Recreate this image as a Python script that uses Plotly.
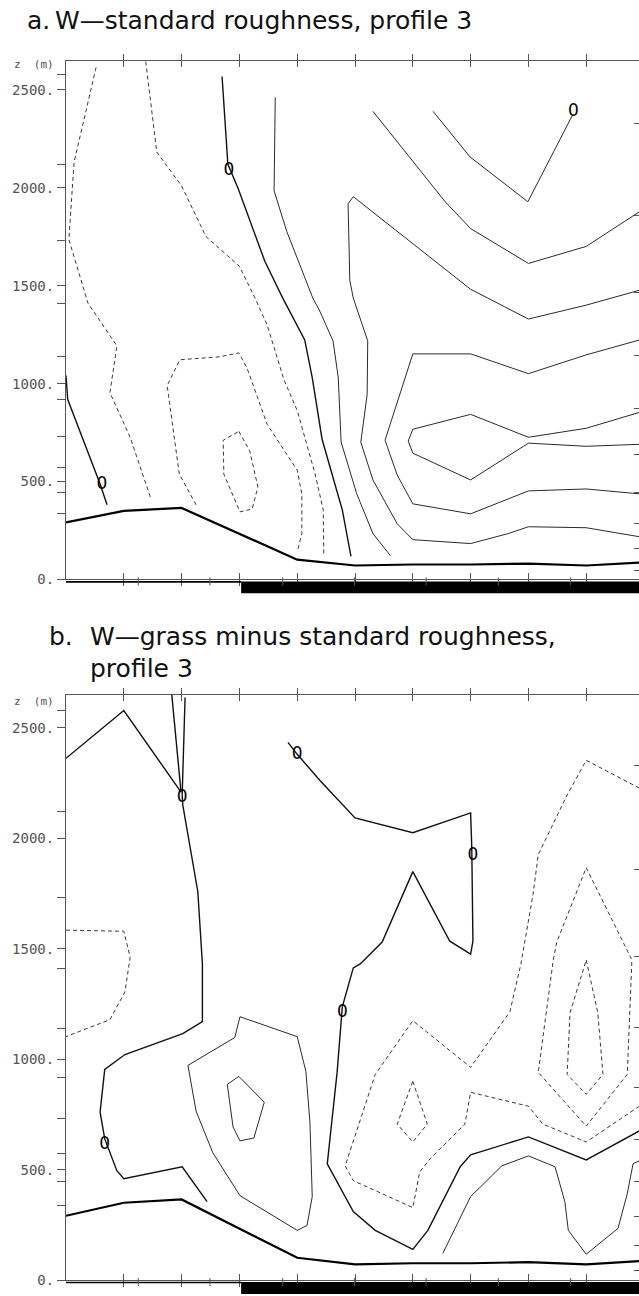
import plotly.graph_objects as go

# ---------------- axes / ticks ----------------
x_ticks = [1, 2, 3, 4, 5, 6, 7, 8, 9]
terrain_ticks = [1.25, 2.49, 3.75, 4.99, 6.23, 7.48, 8.73]
urban_start = 3.03
z_major = [0, 500, 1000, 1500, 2000, 2500]
z_major_text = ["0.", "500.", "1000.", "1500.", "2000.", "2500."]
levels_left = [2580, 2120, 1732, 1411, 1141, 917, 731, 574, 446, 337]
levels_right = [2330, 1860, 1466, 1142, 872, 638, 445, 288, 157, 45]

# heavy reference line near the ground (same in both panels)
terrain_x = [0, 1, 2, 4, 5, 6, 7, 8, 9, 9.92]
terrain_z = [291, 350, 365, 101, 71, 76, 76, 81, 71, 86]

# ---------------- panel a : W, standard roughness ----------------
a_neg1_x = [0.52, 0.14, 0.05, 0.38, 0.88, 0.76, 1.11, 1.47]
a_neg1_z = [2615, 2132, 1736, 1411, 1193, 954, 726, 411]
a_neg2_x = [1.38, 1.57, 2.0, 2.42, 3.0, 3.27, 3.48, 3.77, 4.0, 4.31, 4.45, 4.46]
a_neg2_z = [2645, 2183, 2010, 1752, 1599, 1437, 1300, 1020, 863, 538, 355, 132]
a_neg3_x = [2.25, 1.96, 1.75, 1.97, 2.66, 2.99, 3.13, 3.48, 4.0, 4.08, 4.08, 4.01]
a_neg3_z = [381, 538, 990, 1122, 1137, 1157, 1081, 792, 558, 437, 234, 152]
a_neg4_x = [2.99, 3.18, 3.32, 3.22, 3.01, 2.73, 2.72, 2.99]
a_neg4_z = [756, 655, 472, 360, 345, 538, 711, 756]

a_zero1_x = [2.70, 2.80, 2.98, 3.44, 3.75, 4.13, 4.26, 4.43, 4.78, 4.93]
a_zero1_z = [2569, 2122, 1995, 1625, 1437, 1223, 1031, 716, 355, 117]
a_zero2_x = [0.0, 0.03, 0.59, 0.71]
a_zero2_z = [1041, 919, 487, 381]
a_zero3_x = [6.35, 6.99, 7.99, 8.76]
a_zero3_z = [2391, 2158, 1929, 2370]

a_pos1_x = [3.62, 3.60, 3.82, 4.27, 4.39, 4.62, 4.71, 4.76, 5.03, 5.31, 5.61]
a_pos1_z = [2462, 1985, 1777, 1437, 1371, 1218, 1031, 701, 437, 234, 122]
a_pos2_x = [9.92, 9.0, 8.0, 7.0, 4.97, 4.88, 4.91, 4.97, 5.22, 5.21, 5.10, 5.31,
            5.73, 6.0, 7.0, 7.65, 8.0, 9.0, 9.92]
a_pos2_z = [1477, 1401, 1330, 1482, 1955, 1919, 1528, 1437, 1218, 944, 701, 508,
            284, 203, 183, 234, 269, 264, 218]
a_pos3_x = [5.31, 6.56, 7.0, 8.0, 9.0, 9.92]
a_pos3_z = [2391, 1929, 1792, 1614, 1701, 1878]
a_pos4_x = [9.92, 9.0, 8.0, 7.0, 6.0, 5.52, 5.73, 6.0, 7.0, 8.0, 9.0, 9.92]
a_pos4_z = [1223, 1147, 1051, 1152, 1152, 711, 533, 386, 335, 452, 462, 437]
a_pos5_x = [9.92, 9.0, 8.0, 7.0, 6.0, 5.92, 6.0, 7.0, 8.0, 9.0, 9.92]
a_pos5_z = [853, 772, 726, 843, 767, 706, 645, 508, 696, 680, 690]

a_label_x = [2.82, 0.62, 8.78]
a_label_z = [2087, 482, 2391]

# ---------------- panel b : W, grass minus standard ----------------
b_zero1_x = [0.0, 1.0, 1.99, 1.83]
b_zero1_z = [2362, 2578, 2209, 2650]
b_zero2_x = [2.06, 2.01, 2.02, 2.28, 2.36, 2.36, 2.02, 1.02, 0.67, 0.59, 0.67, 0.88,
             1.0, 2.01, 2.44]
b_zero2_z = [2637, 2196, 2151, 1759, 1431, 1170, 1116, 1021, 954, 760, 639, 495,
             459, 513, 355]
b_zero3_x = [3.84, 4.0, 4.39, 5.0, 6.0, 7.0, 7.02, 7.04, 7.0, 6.64, 6.0, 5.47, 5.09,
             4.97, 4.78, 4.76, 4.69, 4.52, 4.97, 5.35, 6.0, 6.26, 6.82, 7.0, 8.0,
             9.0, 9.92]
b_zero3_z = [2434, 2380, 2263, 2092, 2025, 2115, 1957, 1534, 1476, 1534, 1849, 1530,
             1431, 1413, 1237, 1170, 940, 526, 310, 225, 139, 225, 513, 567, 648,
             544, 675]

b_neg1_x = [0.0, 1.0, 1.11, 1.02, 0.76, 0.0]
b_neg1_z = [1584, 1579, 1462, 1305, 1179, 1102]
b_neg2_x = [9.92, 9.0, 8.67, 8.17, 8.08, 7.87, 7.68, 7.0, 6.0, 5.35, 4.83, 4.97, 6.0,
            6.12, 6.30, 6.90, 7.0, 8.0, 8.25, 9.0, 9.92]
b_neg2_z = [2227, 2353, 2196, 1926, 1746, 1431, 1215, 963, 1174, 931, 517, 450, 328,
            490, 549, 706, 850, 787, 706, 625, 787]
b_neg3_x = [9.0, 9.64, 9.79, 9.71, 9.0, 8.17, 8.43, 8.49, 9.0]
b_neg3_z = [1867, 1534, 1449, 931, 697, 940, 1449, 1530, 1867]
b_neg4_x = [9.0, 9.20, 9.29, 9.0, 8.67, 8.72, 9.0]
b_neg4_z = [1449, 1210, 931, 841, 931, 1210, 1449]
b_neg5_x = [6.0, 6.25, 6.0, 5.73, 6.0]
b_neg5_z = [900, 706, 625, 706, 900]

b_pos1_x = [3.01, 2.92, 2.11, 2.25, 2.54, 3.01, 4.0, 4.17, 4.26, 4.22, 4.15, 4.0, 3.01]
b_pos1_z = [1192, 1098, 972, 765, 576, 382, 225, 247, 378, 715, 945, 1102, 1192]
b_pos2_x = [2.99, 3.43, 3.25, 3.01, 2.89, 2.79, 2.99]
b_pos2_z = [922, 805, 643, 630, 693, 886, 922]
b_pos3_x = [6.52, 7.0, 7.54, 8.0, 8.46, 8.63, 8.69, 9.0, 9.55, 9.71, 9.81, 9.92]
b_pos3_z = [121, 378, 517, 562, 513, 355, 225, 117, 234, 391, 526, 540]

b_label_x = [2.01, 0.67, 4.0, 7.04, 4.78]
b_label_z = [2182, 612, 2380, 1921, 1210]

# ---------------- figure ----------------
W, H = 639, 1296
LEFT = 66
XMAX = 9.913
ZMAX = 2650
dom_a = [1 - 583 / H, 1 - 61 / H]
dom_b = [1 - 1288 / H, 1 - 699 / H]

solid = dict(color="#2a2a2a", width=1)
dashed = dict(color="#3a3a3a", width=1, dash="4px,3px")
zero = dict(color="#111111", width=1.4)
thick = dict(color="#000000", width=2.2)

fig = go.Figure()


def add(xs, zs, style, panel):
    xa, ya = ("x", "y") if panel == "a" else ("x2", "y2")
    fig.add_trace(go.Scatter(x=xs, y=zs, mode="lines", line=style, xaxis=xa,
                             yaxis=ya, hoverinfo="skip", showlegend=False))


for p in ("a", "b"):
    add(terrain_x, terrain_z, thick, p)

for xs, zs in [(a_neg1_x, a_neg1_z), (a_neg2_x, a_neg2_z), (a_neg3_x, a_neg3_z),
               (a_neg4_x, a_neg4_z)]:
    add(xs, zs, dashed, "a")
for xs, zs in [(a_pos1_x, a_pos1_z), (a_pos2_x, a_pos2_z), (a_pos3_x, a_pos3_z),
               (a_pos4_x, a_pos4_z), (a_pos5_x, a_pos5_z), (a_zero3_x, a_zero3_z)]:
    add(xs, zs, solid, "a")
for xs, zs in [(a_zero1_x, a_zero1_z), (a_zero2_x, a_zero2_z)]:
    add(xs, zs, zero, "a")

for xs, zs in [(b_neg1_x, b_neg1_z), (b_neg2_x, b_neg2_z), (b_neg3_x, b_neg3_z),
               (b_neg4_x, b_neg4_z), (b_neg5_x, b_neg5_z)]:
    add(xs, zs, dashed, "b")
for xs, zs in [(b_pos1_x, b_pos1_z), (b_pos2_x, b_pos2_z), (b_pos3_x, b_pos3_z)]:
    add(xs, zs, solid, "b")
for xs, zs in [(b_zero1_x, b_zero1_z), (b_zero2_x, b_zero2_z), (b_zero3_x, b_zero3_z)]:
    add(xs, zs, zero, "b")

label_font = dict(family="DejaVu Sans", size=17, color="#000000")
fig.add_trace(go.Scatter(x=a_label_x, y=a_label_z, mode="text",
                         text=["0"] * len(a_label_x), textfont=label_font,
                         xaxis="x", yaxis="y", hoverinfo="skip", showlegend=False))
fig.add_trace(go.Scatter(x=b_label_x, y=b_label_z, mode="text",
                         text=["0"] * len(b_label_x), textfont=label_font,
                         xaxis="x2", yaxis="y2", hoverinfo="skip", showlegend=False))
# carriers for the right-hand model-level tick axes
fig.add_trace(go.Scatter(x=[0], y=[0], mode="markers", marker=dict(opacity=0),
                         xaxis="x", yaxis="y3", hoverinfo="skip", showlegend=False))
fig.add_trace(go.Scatter(x=[0], y=[0], mode="markers", marker=dict(opacity=0),
                         xaxis="x2", yaxis="y4", hoverinfo="skip", showlegend=False))

axc = "#555555"
xcommon = dict(range=[0, XMAX], showgrid=False, zeroline=False, showline=True,
               linecolor=axc, linewidth=1, mirror="allticks", ticks="inside",
               ticklen=6, tickwidth=1, tickcolor=axc, tickmode="array",
               tickvals=x_ticks, showticklabels=False, domain=[0, 1], fixedrange=True)
ycommon = dict(range=[0, ZMAX], showgrid=False, zeroline=False, showline=True,
               linecolor=axc, linewidth=1, ticks="outside", ticklen=8, tickwidth=1,
               tickcolor=axc, tickmode="array", tickvals=z_major, ticktext=z_major_text,
               tickfont=dict(family="DejaVu Sans Mono", size=14, color="#555"),
               minor=dict(tickmode="array", tickvals=levels_left, ticks="outside",
                          ticklen=8, tickwidth=1, tickcolor=axc, showgrid=False),
               fixedrange=True)
yright = dict(range=[0, ZMAX], showgrid=False, zeroline=False, showline=False,
              side="right", ticks="inside", ticklen=5, tickwidth=1, tickcolor=axc,
              tickmode="array", tickvals=levels_right, showticklabels=False,
              fixedrange=True)


def xp(x):
    return x / XMAX


def yp(py):
    return 1 - py / H


def xpx(px):
    return (px - LEFT) / (W - LEFT)


shapes = []
for dom in (dom_a, dom_b):
    base = H * (1 - dom[0])
    shapes.append(dict(type="line", xref="paper", yref="paper", x0=xp(0),
                       x1=xp(urban_start), y0=yp(base + 2.5), y1=yp(base + 2.5),
                       line=dict(color="#000", width=1.6)))
    shapes.append(dict(type="rect", xref="paper", yref="paper", x0=xp(urban_start),
                       x1=1.0, y0=yp(base + 14), y1=yp(base + 2), fillcolor="#000",
                       line=dict(width=0)))
    for t in terrain_ticks:
        shapes.append(dict(type="line", xref="paper", yref="paper", x0=xp(t), x1=xp(t),
                           y0=yp(base - 2), y1=yp(base + 6),
                           line=dict(color=axc, width=1)))

tfont = dict(family="DejaVu Sans", size=25, color="#111")
ann = [
    dict(text="a.", x=xpx(25), y=yp(21), xanchor="left", yanchor="middle", font=tfont),
    dict(text="W\u2014standard roughness, profile 3", x=xpx(53), y=yp(21),
         xanchor="left", yanchor="middle", font=tfont),
    dict(text="b.", x=xpx(47), y=yp(640), xanchor="left", yanchor="middle", font=tfont),
    dict(text="W\u2014grass minus standard roughness,", x=xpx(88), y=yp(640),
         xanchor="left", yanchor="middle", font=tfont),
    dict(text="profile 3", x=xpx(88), y=yp(673), xanchor="left", yanchor="middle",
         font=tfont),
    dict(text="z\u00a0\u00a0(m)", x=xpx(56), y=yp(65), xanchor="right", yanchor="middle",
         font=dict(family="DejaVu Sans Mono", size=11, color="#555")),
    dict(text="z\u00a0\u00a0(m)", x=xpx(56), y=yp(706), xanchor="right", yanchor="middle",
         font=dict(family="DejaVu Sans Mono", size=11, color="#555")),
]
for a in ann:
    a.update(xref="paper", yref="paper", showarrow=False)

fig.update_layout(
    width=W, height=H, margin=dict(l=LEFT, r=0, t=0, b=0),
    paper_bgcolor="white", plot_bgcolor="white", showlegend=False,
    xaxis=dict(**xcommon, anchor="y"),
    yaxis=dict(**ycommon, domain=dom_a, anchor="x"),
    xaxis2=dict(**xcommon, anchor="y2"),
    yaxis2=dict(**ycommon, domain=dom_b, anchor="x2"),
    yaxis3=dict(**yright, overlaying="y", anchor="x"),
    yaxis4=dict(**yright, overlaying="y2", anchor="x2"),
    shapes=shapes, annotations=ann,
)

fig.write_html("out.html")
